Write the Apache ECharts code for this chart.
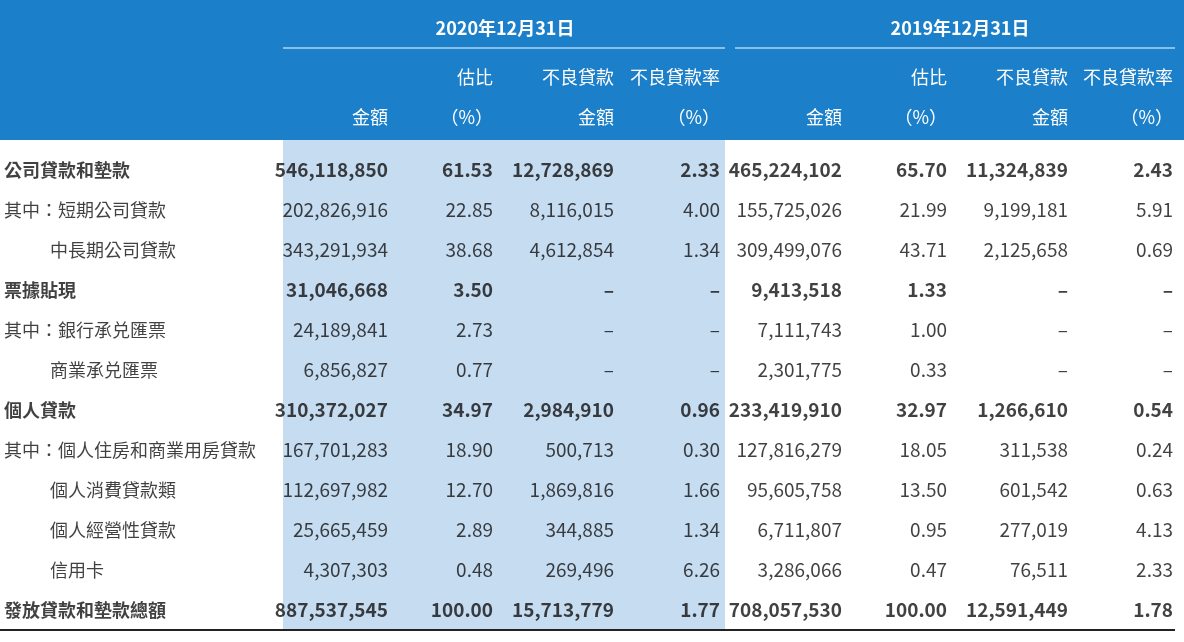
<!DOCTYPE html>
<html><head><meta charset="utf-8">
<script src="https://cdn.jsdelivr.net/npm/echarts@6/dist/echarts.min.js"></script>
<style>html,body{margin:0;padding:0;background:#fff}#c{width:1184px;height:642px}</style>
</head><body><div id="c"></div>
<script>
const rowLabels = ['公司貸款和墊款','其中：短期公司貸款','中長期公司貸款','票據貼現','其中：銀行承兑匯票','商業承兑匯票','個人貸款','其中：個人住房和商業用房貸款','個人消費貸款類','個人經營性貸款','信用卡','發放貸款和墊款總額'];
const indented = [0,0,1,0,0,1,0,0,1,1,1,0];
const boldRows = [1,0,0,1,0,0,1,0,0,0,0,1];
const amount2020 = ['546,118,850','202,826,916','343,291,934','31,046,668','24,189,841','6,856,827','310,372,027','167,701,283','112,697,982','25,665,459','4,307,303','887,537,545'];
const share2020 = ['61.53','22.85','38.68','3.50','2.73','0.77','34.97','18.90','12.70','2.89','0.48','100.00'];
const npl2020 = ['12,728,869','8,116,015','4,612,854','–','–','–','2,984,910','500,713','1,869,816','344,885','269,496','15,713,779'];
const nplRate2020 = ['2.33','4.00','1.34','–','–','–','0.96','0.30','1.66','1.34','6.26','1.77'];
const amount2019 = ['465,224,102','155,725,026','309,499,076','9,413,518','7,111,743','2,301,775','233,419,910','127,816,279','95,605,758','6,711,807','3,286,066','708,057,530'];
const share2019 = ['65.70','21.99','43.71','1.33','1.00','0.33','32.97','18.05','13.50','0.95','0.47','100.00'];
const npl2019 = ['11,324,839','9,199,181','2,125,658','–','–','–','1,266,610','311,538','601,542','277,019','76,511','12,591,449'];
const nplRate2019 = ['2.43','5.91','0.69','–','–','–','0.54','0.24','0.63','4.13','0.24','1.78'];
nplRate2019[9]='4.13'; nplRate2019[10]='2.33';
const columns = [amount2020,share2020,npl2020,nplRate2020,amount2019,share2019,npl2019,nplRate2019];
const colRight = [388,493,614,720,842,947,1068,1173];
const FONT = '"Liberation Sans Narrow","Noto Sans CJK TC",sans-serif';
const chart = echarts.init(document.getElementById('c'));
const series = [];
columns.forEach((col,ci)=>{
  series.push({type:'scatter',symbolSize:0,silent:true,
    data: col.map((v,ri)=>({value:[colRight[ci],rowLabels[ri]],name:v,
      label:{fontWeight: boldRows[ri]?'bold':'normal'}})),
    label:{show:true,position:'left',distance:0,formatter:p=>p.name,color:'#111',fontSize:19,fontFamily:FONT}});
});
series.push({type:'scatter',symbolSize:0,silent:true,
  data: rowLabels.map((l,ri)=>({value:[indented[ri]?50:4,l],name:l,label:{fontWeight:boldRows[ri]?'bold':'normal'}})),
  label:{show:true,position:'right',distance:0,formatter:p=>p.name,color:'#111',fontSize:18,fontFamily:'"Noto Sans CJK TC",sans-serif'}});
const hdr = (t,x,y,align)=>({type:'text',x:x,y:y,style:{text:t,fill:'#fff',font:'18px "Noto Sans CJK TC", sans-serif',textAlign:align||'right',textVerticalAlign:'middle'}});
const graphic = [
  {type:'rect',shape:{x:0,y:0,width:1184,height:140},style:{fill:'#1b7fc9'},z:-10},
  {type:'rect',shape:{x:283,y:140,width:442,height:490},style:{fill:'#c6dcf1'},z:-10},
  {type:'line',shape:{x1:283,y1:48,x2:725,y2:48},style:{stroke:'#fff',lineWidth:1}},
  {type:'line',shape:{x1:735,y1:48,x2:1175,y2:48},style:{stroke:'#fff',lineWidth:1}},
  {type:'line',shape:{x1:0,y1:630,x2:1175,y2:630},style:{stroke:'#222',lineWidth:2}},
  {type:'text',x:505,y:28,style:{text:'2020年12月31日',fill:'#fff',font:'bold 18px "Noto Sans CJK TC", sans-serif',textAlign:'center',textVerticalAlign:'middle'}},
  {type:'text',x:960,y:28,style:{text:'2019年12月31日',fill:'#fff',font:'bold 18px "Noto Sans CJK TC", sans-serif',textAlign:'center',textVerticalAlign:'middle'}}
];
const h1 = ['','估比','不良貸款','不良貸款率'];
const h2 = ['金額','（%）','金額','（%）'];
colRight.forEach((x,i)=>{
  if(h1[i%4]) graphic.push(hdr(h1[i%4],x,77));
  graphic.push(hdr(h2[i%4],x,117));
});
chart.setOption({
  animation:false,
  grid:{left:0,right:0,top:150,bottom:12},
  xAxis:{type:'value',min:0,max:1184,show:false},
  yAxis:{type:'category',inverse:true,data:rowLabels,show:false},
  graphic:graphic,
  series:series
});
</script></body></html>
